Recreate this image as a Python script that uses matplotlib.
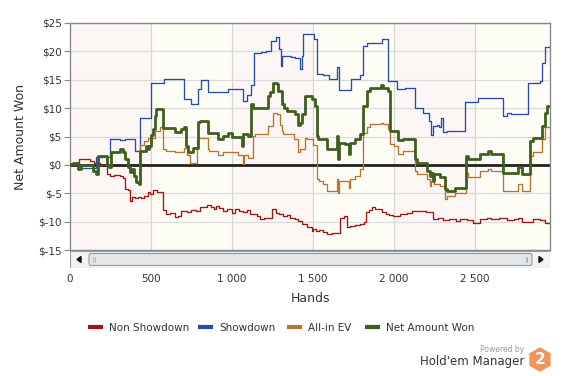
import matplotlib
matplotlib.use("Agg")
import matplotlib.pyplot as plt
from matplotlib.lines import Line2D
from matplotlib.patches import Rectangle, FancyBboxPatch, RegularPolygon, Polygon

# ---- data (hands, $) ----
sd_hands = [0, 30, 62, 160, 250, 310, 340, 400, 430, 500, 580, 705, 750, 790, 810, 850, 975, 1065,
            1090, 1120, 1135, 1180, 1210, 1240, 1270, 1290, 1300, 1310, 1365, 1390, 1420, 1430, 1440,
            1500, 1505, 1525, 1560, 1600, 1648, 1660, 1735, 1790, 1810, 1835, 1926, 1965, 2017, 2068,
            2130, 2177, 2216, 2228, 2240, 2264, 2278, 2290, 2303, 2326, 2440, 2519, 2670, 2700, 2720,
            2830, 2900, 2915, 2932, 2963]
sd_vals = [0.0, 0.2, -0.6, 1.4, 4.5, 4.4, 4.6, 2.4, 8.2, 14.5, 15.2, 11.6, 10.7, 13.3, 15.0, 12.9,
           13.3, 11.3, 12.4, 14.0, 19.7, 19.9, 20.1, 21.8, 22.6, 20.4, 17.4, 19.2, 19.0, 18.8, 16.9,
           19.2, 23.1, 23.1, 22.1, 16.1, 15.9, 15.1, 17.2, 13.2, 15.1, 15.9, 20.9, 21.4, 22.1, 14.8,
           13.3, 13.6, 10.1, 9.2, 7.7, 5.2, 6.9, 7.0, 6.6, 8.2, 5.8, 5.9, 11.1, 11.7, 8.6, 9.2, 8.9,
           14.5, 14.8, 18.0, 20.7, 20.7]

nw_hands = [0, 20, 50, 65, 80, 142, 162, 173, 230, 240, 251, 310, 325, 342, 358, 368, 383, 395, 410,
            424, 430, 471, 480, 490, 502, 513, 523, 533, 574, 646, 687, 705, 716, 730, 760, 790, 800,
            850, 915, 945, 975, 1000, 1060, 1068, 1100, 1120, 1130, 1222, 1235, 1253, 1276, 1284,
            1307, 1320, 1340, 1389, 1408, 1420, 1432, 1451, 1494, 1512, 1523, 1532, 1585, 1648, 1655,
            1660, 1700, 1722, 1730, 1759, 1790, 1809, 1831, 1852, 1920, 1935, 1963, 1975, 2025, 2056,
            2130, 2140, 2202, 2222, 2230, 2241, 2250, 2284, 2315, 2325, 2377, 2443, 2457, 2530, 2580,
            2600, 2671, 2765, 2788, 2840, 2858, 2912, 2932, 2943, 2963]
nw_vals = [0.2, 0.3, -0.7, 0.0, -0.1, -1.0, -1.6, 1.5, 0.0, -0.4, 2.2, 2.8, 2.2, 1.05, -0.4, -1.3,
           -0.7, -1.9, -3.0, -3.3, 2.4, 3.4, 2.8, 3.4, 5.2, 6.3, 8.7, 9.9, 6.5, 5.75, 6.3, 6.6, 3.3,
           2.2, 3.0, 7.5, 7.8, 5.7, 4.5, 5.1, 5.6, 4.9, 3.3, 5.4, 5.1, 10.7, 10.1, 12.1, 12.8, 14.5,
           14.2, 13.0, 10.7, 10.1, 9.5, 8.9, 7.0, 7.4, 8.9, 12.1, 11.6, 10.4, 5.1, 4.5, 2.8, 5.1, 1.0,
           3.9, 3.6, 1.9, 3.9, 4.5, 5.4, 10.4, 13.0, 13.6, 14.0, 13.6, 13.0, 6.0, 4.3, 4.5, 1.0, 0.4,
           -1.05, -2.0, -1.4, -2.8, -1.6, -2.2, -4.3, -4.6, -4.0, 1.6, 1.0, 1.9, 2.5, 1.9, -1.35,
           -0.45, -1.6, 4.2, 4.8, 6.9, 9.2, 10.4, 10.4]

ev_hands = [0, 20, 50, 65, 80, 142, 162, 173, 230, 240, 251, 310, 325, 342, 358, 368, 383, 395, 410,
            424, 430, 455, 480, 525, 555, 576, 590, 650, 705, 720, 740, 782, 790, 852, 860, 915, 945,
            1040, 1066, 1075, 1100, 1128, 1140, 1222, 1253, 1276, 1296, 1307, 1315, 1385, 1408, 1420,
            1451, 1462, 1498, 1523, 1540, 1562, 1585, 1648, 1655, 1662, 1722, 1730, 1759, 1790, 1807,
            1831, 1852, 1920, 1935, 1963, 1975, 2000, 2025, 2056, 2130, 2140, 2202, 2222, 2230, 2250,
            2284, 2315, 2325, 2377, 2443, 2457, 2530, 2580, 2600, 2671, 2765, 2788, 2840, 2858, 2912,
            2932, 2963]
ev_vals = [0.2, 0.3, -0.7, 0.0, -0.1, -1.0, -1.6, 1.5, 0.0, -0.4, 2.2, 2.8, 2.2, 1.05, -0.4, -1.3,
           -0.7, -1.9, -3.0, -3.3, 3.5, 4.2, 4.8, 6.0, 6.6, 2.8, 2.5, 2.2, 3.0, 1.7, 0.3, 4.5, 4.8,
           2.8, 2.5, 1.7, 2.2, 1.7, 0.1, 1.7, 1.2, 5.1, 5.4, 6.9, 9.2, 8.9, 7.0, 6.0, 5.4, 4.5, 2.2,
           2.8, 4.8, 4.5, 3.5, -2.5, -2.8, -3.4, -4.6, -2.5, -4.9, -2.8, -4.0, -2.5, -2.0, -0.8, 5.7,
           6.6, 7.2, 7.4, 7.2, 6.3, 3.6, 3.3, 1.9, 2.5, -1.05, -1.6, -2.5, -3.7, -2.8, -3.4, -3.7,
           -6.0, -5.4, -4.9, -1.35, -2.2, -1.05, -0.7, -1.05, -4.6, -3.4, -4.6, 1.6, 2.2, 4.5, 6.6, 6.6]

ns_hands = [0, 56, 122, 150, 183, 230, 245, 270, 290, 310, 327, 337, 358, 368, 380, 400, 420, 440,
            455, 470, 482, 495, 513, 540, 574, 590, 620, 646, 665, 687, 720, 750, 775, 802, 845, 870,
            890, 900, 920, 945, 970, 998, 1019, 1045, 1070, 1090, 1110, 1152, 1170, 1200, 1230, 1245,
            1270, 1290, 1315, 1340, 1360, 1389, 1410, 1430, 1462, 1492, 1500, 1520, 1540, 1562, 1585,
            1620, 1665, 1690, 1708, 1730, 1760, 1790, 1815, 1827, 1845, 1862, 1880, 1895, 1924, 1950,
            1970, 1994, 2037, 2078, 2110, 2160, 2200, 2243, 2270, 2300, 2340, 2380, 2410, 2449, 2490,
            2530, 2572, 2600, 2650, 2700, 2740, 2765, 2788, 2840, 2860, 2900, 2932, 2963]
ns_vals = [0.0, 1.0, 0.6, 0.35, 0.0, -1.6, -1.9, -1.7, -1.8, -2.0, -2.3, -4.2, -4.5, -6.3, -5.7,
           -5.9, -5.6, -5.8, -5.4, -5.5, -4.8, -5.1, -4.5, -4.7, -8.0, -8.6, -8.4, -9.2, -9.0, -8.2,
           -8.3, -7.9, -8.1, -7.5, -7.1, -7.4, -7.8, -7.2, -7.6, -8.1, -7.8, -8.4, -7.8, -8.1, -8.3,
           -8.0, -8.7, -9.0, -9.6, -9.4, -9.3, -7.8, -8.4, -8.7, -9.0, -8.8, -9.3, -9.6, -9.9, -10.4,
           -11.0, -11.6, -11.3, -11.6, -11.5, -11.9, -12.2, -12.0, -9.3, -9.0, -11.0, -10.8, -10.6,
           -10.4, -10.1, -8.3, -7.9, -7.5, -7.8, -7.7, -8.3, -8.6, -8.8, -9.0, -8.6, -8.4, -8.2,
           -8.1, -8.3, -9.6, -9.4, -9.8, -9.6, -9.9, -9.6, -9.8, -10.3, -9.6, -9.3, -9.6, -9.4,
           -9.8, -9.5, -9.3, -10.1, -10.0, -9.6, -9.8, -10.3, -10.3]

y_ticks = [-15, -10, -5, 0, 5, 10, 15, 20, 25]
x_ticks = [0, 500, 1000, 1500, 2000, 2500]
x_labels = ["0", "500", "1 000", "1 500", "2 000", "2 500"]
series_names = ["Non Showdown", "Showdown", "All-in EV", "Net Amount Won"]
series_colors = ["#a31515", "#2b4aa6", "#b8742e", "#3f5f1f"]

W, H = 563, 376
fig = plt.figure(figsize=(W / 100, H / 100), dpi=100)
fig.patch.set_facecolor("white")

ax = fig.add_axes([70 / W, 1 - 250 / H, 480 / W, 227 / H])
ax.set_xlim(0, 2963)
ax.set_ylim(-15, 25)

# alternating background bands
band_cols = ["#fcf7f5", "#fdfdf6"]
for i, start in enumerate(range(0, 3000, 500)):
    ax.axvspan(start, start + 500, color=band_cols[i % 2], lw=0, zorder=0)

for y in y_ticks:
    ax.axhline(y, color="#dcdcdc", lw=0.9, zorder=1)
for x in x_ticks[1:]:
    ax.axvline(x, color="#d6d6d6", lw=0.9, zorder=1)
ax.axhline(0, color="#222222", lw=2.0, zorder=2)

ax.plot(ns_hands, ns_vals, drawstyle="steps-post", color=series_colors[0], lw=0.95, zorder=3)
ax.plot(sd_hands, sd_vals, drawstyle="steps-post", color=series_colors[1], lw=0.95, zorder=3)
ax.plot(ev_hands, ev_vals, drawstyle="steps-post", color=series_colors[2], lw=0.95, zorder=3)
ax.plot(nw_hands, nw_vals, drawstyle="steps-post", color=series_colors[3], lw=2.0, zorder=4)

ax.set_yticks(y_ticks)
ax.set_yticklabels(["$" + str(v) for v in y_ticks])
ax.set_xticks(x_ticks)
ax.set_xticklabels(x_labels)
ax.tick_params(axis="y", length=4, color="#888888", labelsize=7.5, labelcolor="#333333", pad=2)
ax.tick_params(axis="x", length=0, labelsize=7.5, labelcolor="#333333", pad=17)
for s in ax.spines.values():
    s.set_color("#8a8a8a")
    s.set_linewidth(1.0)
ax.set_ylabel("Net Amount Won", fontsize=9, color="#333333", labelpad=8)

# scrollbar under the plot
sb = fig.add_axes([70 / W, 1 - 268 / H, 480 / W, 17 / H])
sb.set_xlim(0, 480)
sb.set_ylim(0, 17)
sb.axis("off")
sb.add_patch(Rectangle((0, 0), 480, 17, facecolor="#f4f4f4", edgecolor="#9a9a9a", lw=0.8))
sb.add_patch(FancyBboxPatch((19, 2.5), 443, 12, boxstyle="round,pad=0,rounding_size=2",
                            facecolor="#e4e6e8", edgecolor="#8e9aa6", lw=0.8))
sb.add_patch(Polygon([[7, 8.5], [11, 11.5], [11, 5.5]], closed=True, color="#111111"))
sb.add_patch(Polygon([[473, 8.5], [469, 11.5], [469, 5.5]], closed=True, color="#111111"))
for gx in (23, 24.5, 455.5, 457):
    sb.plot([gx, gx], [6, 11], color="#9aa4ae", lw=0.5)

fig.text(310 / W, 1 - 299 / H, "Hands", ha="center", va="center", fontsize=9, color="#333333")

# legend
leg_x = [88, 198, 287, 365]
for name, col, lx in zip(series_names, series_colors, leg_x):
    fig.add_artist(Line2D([lx / W, (lx + 15) / W], [1 - 327 / H] * 2, color=col, lw=3,
                          solid_capstyle="butt", transform=fig.transFigure))
    fig.text((lx + 21) / W, 1 - 328 / H, name, ha="left", va="center", fontsize=7.5,
             color="#333333")

# "Powered by" badge
fig.text(524 / W, 1 - 350 / H, "Powered by", ha="right", va="center", fontsize=5.5, color="#999999")
fig.text(524 / W, 1 - 362 / H, "Hold'em Manager", ha="right", va="center", fontsize=8.5,
         color="#333333")
badge = fig.add_axes([528 / W, 1 - 372 / H, 24 / W, 25 / H])
badge.set_xlim(-1.2, 1.2)
badge.set_ylim(-1.25, 1.25)
badge.axis("off")
badge.add_patch(RegularPolygon((0, 0), 6, radius=1.15, orientation=0, color="#f0955a"))
badge.text(0, -0.05, "2", ha="center", va="center", fontsize=11, fontweight="bold", color="white")

fig.savefig("out.png", dpi=100)
